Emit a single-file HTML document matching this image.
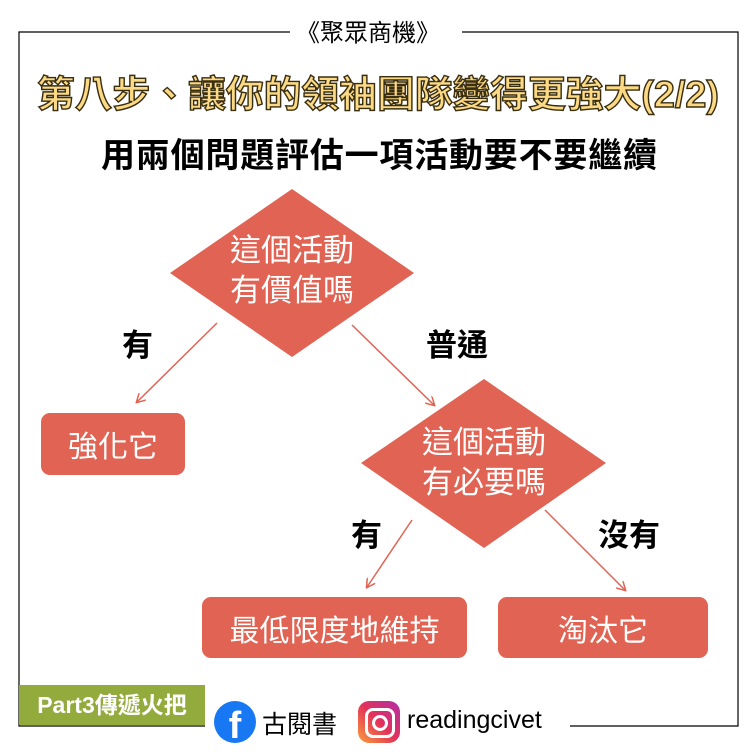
<!DOCTYPE html>
<html><head><meta charset="utf-8"><style>
body{margin:0;width:756px;height:756px;background:#fff;overflow:hidden;position:relative;font-family:"Liberation Sans","Noto Sans CJK TC",sans-serif}
.t{position:absolute;white-space:nowrap}
.box{position:absolute;background:#e06353;border-radius:9px;color:#fff;font-size:30px;display:flex;align-items:center;justify-content:center;font-family:"Liberation Sans","Noto Sans CJK TC",sans-serif}
</style></head><body>
<svg width="756" height="756" style="position:absolute;left:0;top:0">
<defs><marker id="a" markerWidth="10" markerHeight="10" refX="8" refY="5" orient="auto" markerUnits="userSpaceOnUse"><path d="M0,0 L9,5 L0,10" fill="none" stroke="#e06353" stroke-width="1.5"/></marker></defs>
<path d="M290,32 H19 V726 H205 M570,726 H738 V32 H462" fill="none" stroke="#000" stroke-width="1.2"/>
<polygon points="292,189 414,273 292,357 170,273" fill="#e06353"/>
<polygon points="484,379 606,463 484,548 361,463" fill="#e06353"/>
<g stroke="#e06353" stroke-width="1.5" marker-end="url(#a)">
<line x1="217" y1="323" x2="137" y2="402"/>
<line x1="352" y1="325" x2="434" y2="405"/>
<line x1="412" y1="520" x2="367" y2="587"/>
<line x1="545" y1="510" x2="625" y2="590"/>
</g>
<g fill="#fff" font-size="31" text-anchor="middle" font-family="Liberation Sans, Noto Sans CJK TC, sans-serif">
<text x="292" y="261">這個活動</text>
<text x="292" y="301">有價值嗎</text>
<text x="484" y="453">這個活動</text>
<text x="484" y="493">有必要嗎</text>
</g>
<text x="378" y="107" fill="#fbd985" stroke="#3a2e10" stroke-width="1.4" font-size="37" font-weight="bold" text-anchor="middle" textLength="682" lengthAdjust="spacingAndGlyphs" font-family="Liberation Sans, Noto Sans CJK TC, sans-serif">第八步、讓你的領袖團隊變得更強大(2/2)</text>
</svg>
<div class="t" style="left:296px;top:13px;font-size:24px">《聚眾商機》</div>
<div class="t" style="left:101px;top:128px;font-size:34px;font-weight:bold;letter-spacing:0.8px">用兩個問題評估一項活動要不要繼續</div>
<div class="t" style="left:122px;top:320px;font-size:31px;font-weight:bold">有</div>
<div class="t" style="left:426px;top:320px;font-size:31px;font-weight:bold">普通</div>
<div class="t" style="left:351px;top:510px;font-size:31px;font-weight:bold">有</div>
<div class="t" style="left:598px;top:510px;font-size:31px;font-weight:bold">沒有</div>
<div class="box" style="left:41px;top:413px;width:144px;height:62px">強化它</div>
<div class="box" style="left:202px;top:597px;width:265px;height:61px">最低限度地維持</div>
<div class="box" style="left:498px;top:597px;width:210px;height:61px">淘汰它</div>
<div style="position:absolute;left:19px;top:685px;width:186px;height:40px;background:#93aa3d;color:#fff;font-size:23px;font-weight:bold;line-height:40px;text-align:center">Part3傳遞火把</div>
<div style="position:absolute;left:214px;top:701px;width:42px;height:42px;border-radius:50%;background:#1877f2;color:#fff;font-size:38px;font-weight:bold;text-align:center;line-height:50px;overflow:hidden">f</div>
<div class="t" style="left:262px;top:705px;font-size:25px">古閱書</div>
<div style="position:absolute;left:358px;top:701px;width:42px;height:42px;border-radius:11px;background:linear-gradient(45deg,#f9a03a,#e3325a 50%,#b12fa6)"><div style="position:absolute;left:7px;top:7px;width:24px;height:24px;border:3px solid #fff;border-radius:8px"></div><div style="position:absolute;left:14px;top:14px;width:10px;height:10px;border:3px solid #fff;border-radius:50%"></div></div>
<div class="t" style="left:407px;top:706px;font-size:25px">readingcivet</div>
</body></html>
